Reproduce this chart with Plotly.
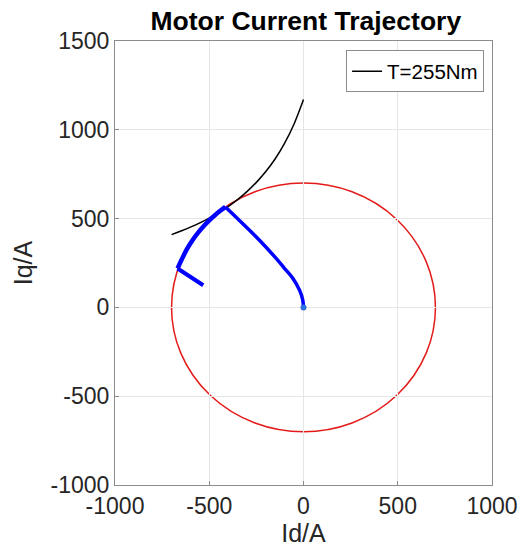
import plotly.graph_objects as go

# ---- data ----
# constant-torque curve T=255Nm (Id, Iq)
torque_id = [-700, -650, -600, -550, -500, -450, -400, -350, -300, -250, -200, -150, -100, -50, 0]
torque_iq = [410, 430, 452, 476, 503, 534, 568, 607, 652, 704, 765, 837, 925, 1033, 1170]

# current limit circle radius (A)
circle_radius = 700

# blue current trajectory: MTPA rise, along the current limit, then final leg
traj_rise_id = [0, -4, -21, -56, -100, -152, -231, -300, -360, -414]
traj_rise_iq = [0, 41, 97, 163, 219, 284, 375, 448, 510, 566]
traj_arc_id = [-414, -440, -470, -500, -530, -560, -590, -620, -645, -668]
traj_arc_iq = [566, 545, 519, 490, 457, 420, 377, 325, 272, 219]
traj_end_id = [-668, -532]
traj_end_iq = [219, 125]

x_ticks = [-1000, -500, 0, 500, 1000]
y_ticks = [-1000, -500, 0, 500, 1000, 1500]

FONT = "Liberation Sans, Arial, sans-serif"
BLUE = "#0000ff"
fig = go.Figure()

fig.add_trace(go.Scatter(
    x=torque_id, y=torque_iq, mode="lines", name="T=255Nm",
    line=dict(color="black", width=1.5, shape="spline"),
    showlegend=True,
))
fig.add_trace(go.Scatter(
    x=traj_rise_id, y=traj_rise_iq, mode="lines",
    line=dict(color=BLUE, width=3.5, shape="spline", smoothing=1.0),
    showlegend=False,
))
fig.add_trace(go.Scatter(
    x=traj_arc_id, y=traj_arc_iq, mode="lines",
    line=dict(color=BLUE, width=4.5, shape="spline"),
    showlegend=False,
))
fig.add_trace(go.Scatter(
    x=traj_end_id, y=traj_end_iq, mode="lines",
    line=dict(color=BLUE, width=4),
    showlegend=False,
))
fig.add_trace(go.Scatter(
    x=traj_rise_id[:1], y=traj_rise_iq[:1], mode="markers",
    marker=dict(color="#2f6fe0", size=6),
    showlegend=False,
))

fig.add_shape(
    type="circle", xref="x", yref="y",
    x0=-circle_radius, y0=-circle_radius, x1=circle_radius, y1=circle_radius,
    line=dict(color="#e41a1a", width=1.5), layer="below",
)

axis_common = dict(
    showgrid=True, gridcolor="#e6e6e6", gridwidth=1,
    zeroline=False, showline=True, linecolor="#8c8c8c", linewidth=1, mirror=True,
    ticks="inside", ticklen=4, tickcolor="#8c8c8c",
    tickfont=dict(family=FONT, size=23, color="#262626"),
)

fig.update_layout(
    width=530, height=556,
    margin=dict(l=115, r=34, t=41, b=71),
    paper_bgcolor="white", plot_bgcolor="white",
    title=dict(text="<b>Motor Current Trajectory</b>", x=0.577, xanchor="center",
               y=1 - 21 / 556, yanchor="middle", yref="container",
               font=dict(family=FONT, size=26.5, color="black")),
    xaxis=dict(range=[-1000, 1000], tickvals=x_ticks, ticktext=[str(v) for v in x_ticks],
               **axis_common,
               title=dict(text="Id/A", font=dict(family=FONT, size=25, color="#262626"), standoff=6)),
    yaxis=dict(range=[-1000, 1500], tickvals=y_ticks, ticktext=[str(v) for v in y_ticks],
               **axis_common,
               title=dict(text="Iq/A", font=dict(family=FONT, size=25, color="#262626"), standoff=10)),
    legend=dict(x=0.979, y=0.979, xanchor="right", yanchor="top",
                bgcolor="white", bordercolor="#8c8c8c", borderwidth=1,
                font=dict(family=FONT, size=20.5, color="black"),
                itemwidth=30, tracegroupgap=0),
)

fig.write_html("out.html")
